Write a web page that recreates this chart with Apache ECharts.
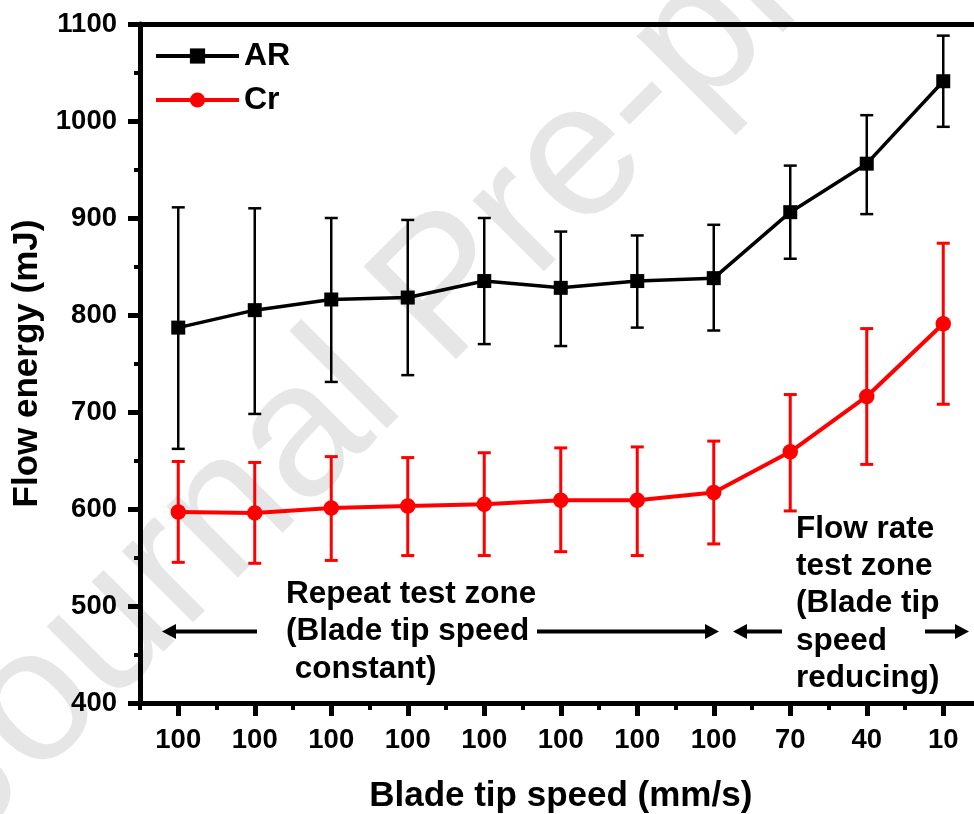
<!DOCTYPE html>
<html><head><meta charset="utf-8">
<script src="https://cdn.jsdelivr.net/npm/echarts@6/dist/echarts.min.js"></script>
<style>html,body{margin:0;padding:0;background:#fff;overflow:hidden}#c{width:974px;height:814px}</style>
</head><body><div id="c"></div>
<script>
// ---- data ----
const categories = ['100','100','100','100','100','100','100','100','70','40','10'];
const arMean  = [787, 805, 816, 818, 835, 828, 835, 838, 906, 956, 1041];
const arUpper = [911, 910, 900, 898, 900, 886, 882, 893, 954, 1006, 1088];
const arLower = [662, 698, 731, 738, 770, 768, 787, 784, 858, 904, 994];
const crMean  = [597, 596, 601, 603, 605, 609, 609, 617, 659, 716, 791];
const crUpper = [649, 648, 654, 653, 658, 663, 664, 670, 718, 786, 874];
const crLower = [545, 544, 547, 552, 552, 556, 552, 564, 598, 646, 708];
const seriesNames = ['AR', 'Cr'];
const yTitle = 'Flow energy (mJ)';
const xTitle = 'Blade tip speed (mm/s)';
const noteRepeat = 'Repeat test zone\n(Blade tip speed\n constant)';
const noteFlow = 'Flow rate\ntest zone\n(Blade tip\nspeed\nreducing)';
const watermark = 'Journal Pre-proof';

const FONT = "'Liberation Sans', Arial, Helvetica, sans-serif";
const chart = echarts.init(document.getElementById('c'), null, {renderer: 'canvas'});

function errBar(color, lw) {
  return function (params, api) {
    const i = api.value(0);
    const lo = api.coord([i, api.value(1)]);
    const hi = api.coord([i, api.value(2)]);
    const w = 6.5;
    const style = {stroke: color, lineWidth: lw, fill: null};
    return {type: 'group', children: [
      {type: 'line', shape: {x1: lo[0], y1: lo[1], x2: hi[0], y2: hi[1]}, style: style},
      {type: 'line', shape: {x1: hi[0] - w, y1: hi[1], x2: hi[0] + w, y2: hi[1]}, style: style},
      {type: 'line', shape: {x1: lo[0] - w, y1: lo[1], x2: lo[0] + w, y2: lo[1]}, style: style}
    ]};
  };
}

function arrow(x1, x2, y, headLeft) {
  const hl = 14, hh = 7.5;
  const tip = headLeft ? x1 : x2;
  const base = headLeft ? x1 + hl : x2 - hl;
  return {type: 'group', children: [
    {type: 'line', shape: {x1: headLeft ? base : x1, y1: y, x2: headLeft ? x2 : base, y2: y},
     style: {stroke: '#000', lineWidth: 4}},
    {type: 'polygon', shape: {points: [[tip, y], [base, y - hh], [base, y + hh]]},
     style: {fill: '#000'}}
  ]};
}

const labelStyle = {fontFamily: FONT, fontWeight: 'bold', color: '#000'};

const option = {
  backgroundColor: '#fff',
  animation: false,
  grid: {left: 140, top: 24, width: 841.5, height: 679, containLabel: false, outerBoundsMode: 'none'},
  legend: {
    data: seriesNames,
    orient: 'vertical',
    left: 154, top: 40, padding: 0,
    itemWidth: 83, itemHeight: 19, itemGap: 12,
    lineStyle: {width: 4},
    textStyle: {fontFamily: FONT, fontWeight: 'bold', fontSize: 32, color: '#000'}
  },
  xAxis: [
    {
      type: 'category', data: categories, position: 'bottom', boundaryGap: true,
      axisLine: {show: true, lineStyle: {color: '#000', width: 5}},
      axisTick: {show: true, alignWithLabel: true, interval: 0, length: 13, lineStyle: {color: '#000', width: 5}},
      axisLabel: Object.assign({fontSize: 27.5, margin: 23, interval: 0}, labelStyle),
      splitLine: {show: false},
      name: xTitle, nameLocation: 'middle', nameGap: 76,
      nameTextStyle: Object.assign({fontSize: 35}, labelStyle)
    },
    {
      type: 'category', data: categories, position: 'bottom', boundaryGap: true,
      axisLine: {show: false},
      axisTick: {show: true, interval: 0, length: 7, lineStyle: {color: '#000', width: 4}},
      axisLabel: {show: false, interval: 0},
      splitLine: {show: false}
    },
    {
      type: 'category', data: categories, position: 'top', boundaryGap: true,
      axisLine: {show: true, lineStyle: {color: '#000', width: 5}},
      axisTick: {show: false}, axisLabel: {show: false}, splitLine: {show: false}
    }
  ],
  yAxis: {
    type: 'value', min: 400, max: 1100, interval: 100,
    axisLine: {show: true, lineStyle: {color: '#000', width: 5}},
    axisTick: {show: true, length: 12, lineStyle: {color: '#000', width: 5}},
    minorTick: {show: true, splitNumber: 2, length: 6, lineStyle: {color: '#000', width: 4}},
    splitLine: {show: false}, minorSplitLine: {show: false},
    axisLabel: Object.assign({fontSize: 27.5, margin: 23, formatter: function (v) { return String(v); }}, labelStyle),
    name: yTitle, nameLocation: 'middle', nameGap: 92,
    nameTextStyle: Object.assign({fontSize: 35}, labelStyle)
  },
  graphic: [
    {type: 'text', z: -10, x: 449, y: 292, rotation: Math.PI / 4, silent: true,
     style: {text: watermark, font: 'normal 190px ' + FONT, fill: '#e6e6e6', align: 'center', verticalAlign: 'middle'}},
    {type: 'text', x: 286, y: 575.5,
     style: {text: noteRepeat, font: 'bold 31.5px ' + FONT, fill: '#000', lineHeight: 37.5, align: 'left', verticalAlign: 'top'}},
    {type: 'text', x: 796, y: 510.5,
     style: {text: noteFlow, font: 'bold 31.5px ' + FONT, fill: '#000', lineHeight: 37.3, align: 'left', verticalAlign: 'top'}},
    arrow(162, 257, 631.5, true),
    arrow(537, 719, 631.5, false),
    arrow(733, 782, 631.5, true),
    arrow(925, 969, 631.5, false)
  ],
  series: [
    {
      name: 'AR err', type: 'custom', renderItem: errBar('#000', 2.5),
      data: categories.map((c, i) => [i, arLower[i], arUpper[i]]),
      encode: {x: 0, y: [1, 2]}, z: 2
    },
    {
      name: 'Cr err', type: 'custom', renderItem: errBar('#ff0000', 3),
      data: categories.map((c, i) => [i, crLower[i], crUpper[i]]),
      encode: {x: 0, y: [1, 2]}, z: 2
    },
    {
      name: seriesNames[0], type: 'line', data: arMean,
      symbol: 'rect', symbolSize: 14,
      lineStyle: {color: '#000', width: 3.5},
      itemStyle: {color: '#000'}, z: 3
    },
    {
      name: seriesNames[1], type: 'line', data: crMean,
      symbol: 'circle', symbolSize: 15.5,
      lineStyle: {color: '#ff0000', width: 4},
      itemStyle: {color: '#ff0000'}, z: 3
    }
  ]
};
chart.setOption(option);
</script>
</body></html>
